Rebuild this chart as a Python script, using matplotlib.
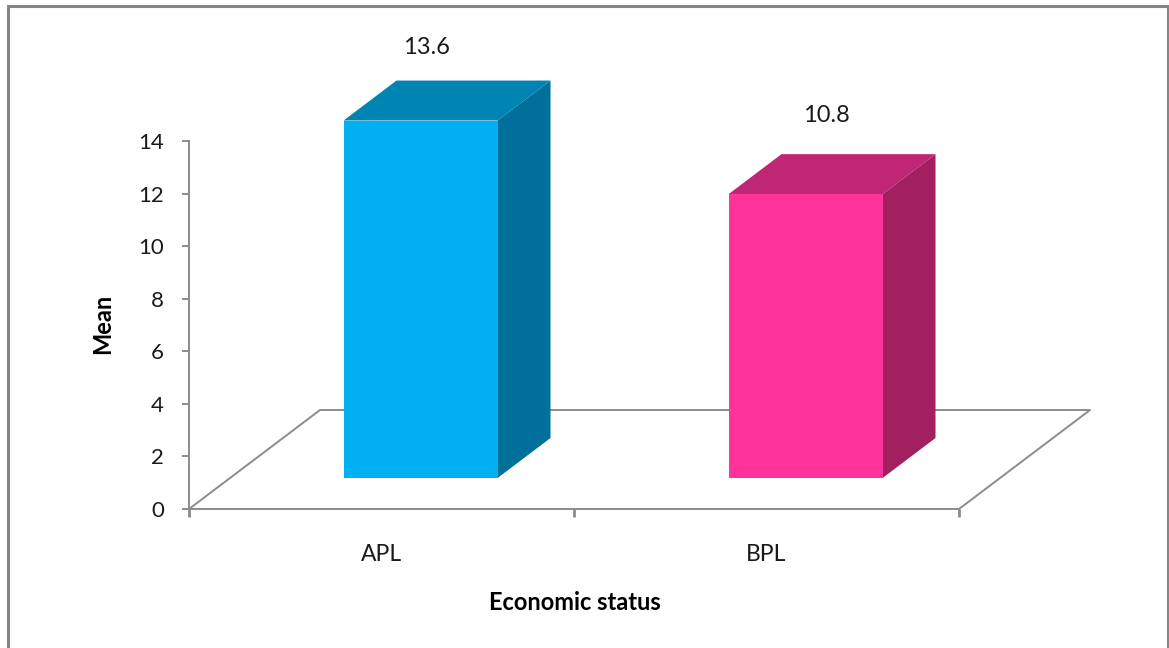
import matplotlib
matplotlib.use("Agg")
from matplotlib import pyplot as plt
from matplotlib.patches import Polygon, Rectangle

plt.rcParams['font.family'] = ['Lato', 'DejaVu Sans']

categories = ["APL", "BPL"]
means = [13.6, 10.8]
y_ticks = [0, 2, 4, 6, 8, 10, 12, 14]

front_colors = ["#00B0F0", "#FF3399"]
top_colors = ["#0084B4", "#BF2673"]
side_colors = ["#00709A", "#A2205F"]

W, H = 1169, 648
GRAY = "#8C8C8C"

fig = plt.figure(figsize=(W / 100, H / 100), dpi=100)

# outer chart border
fig.add_artist(Rectangle((7.5 / W, -0.05), (1167.5 - 7.5) / W, 1.05 - 5.5 / H,
                         transform=fig.transFigure, fill=False, ec="#858585", lw=2.2))

# plot box: x 0..2 is the front edge of the floor, y 0..14 the wall height
ax = fig.add_axes([189 / W, 1 - 509 / H, 770 / W, 368 / H])
ax.set_xlim(0, 2)
ax.set_ylim(0, 14)
ax.patch.set_visible(False)

floor_dx = 131 / 385
floor_dy = 99 / 26.29
bar_width = 0.4


def skew(x, y, depth):
    # slide a point back along the floor, depth 0 is front and 1 is back
    return (x + depth * floor_dx, y + depth * floor_dy)


def face(points, color, z=3):
    ax.add_patch(Polygon(points, closed=True, fc=color, ec="none", clip_on=False, zorder=z))


# floor outline
ax.plot([0, floor_dx, 2 + floor_dx, 2], [0, floor_dy, floor_dy, 0],
        color=GRAY, lw=1.4, clip_on=False, zorder=1)

bar_front = 0.313
bar_back = 0.717
label_gap = [73, 79]
label_shift = [6, 21]

for i, (name, val) in enumerate(zip(categories, means)):
    x0 = i + 0.495 - bar_width / 2
    x1 = x0 + bar_width
    face([skew(x0, 0, bar_front), skew(x1, 0, bar_front),
          skew(x1, val, bar_front), skew(x0, val, bar_front)], front_colors[i], 4)
    face([skew(x0, val, bar_front), skew(x1, val, bar_front),
          skew(x1, val, bar_back), skew(x0, val, bar_back)], top_colors[i])
    face([skew(x1, 0, bar_front), skew(x1, 0, bar_back),
          skew(x1, val, bar_back), skew(x1, val, bar_front)], side_colors[i])
    ax.annotate(f"{val}", xy=skew(i + 0.495, val, bar_front),
                xytext=(label_shift[i] * 0.72, label_gap[i] * 0.72),
                textcoords="offset points", ha="center", va="center",
                fontsize=17, color="#1A1A1A", annotation_clip=False)

for s in ["top", "right"]:
    ax.spines[s].set_visible(False)
for s in ["left", "bottom"]:
    ax.spines[s].set_color(GRAY)
    ax.spines[s].set_linewidth(1.4)

ax.set_yticks(y_ticks)
ax.tick_params(axis="y", length=5, width=1.4, color=GRAY, labelsize=16, pad=13, labelcolor="#1A1A1A")

# ticks sit between the categories, labels in the middle
ax.set_xticks([0, 1, 2])
ax.set_xticklabels([])
ax.tick_params(axis="x", which="major", length=6, width=2, color=GRAY)
ax.set_xticks([0.5, 1.5], minor=True)
ax.set_xticklabels(categories, minor=True)
ax.tick_params(axis="x", which="minor", length=0, pad=25, labelsize=16.5, labelcolor="#1A1A1A")

fig.text(103 / W, 1 - 324 / H, "Mean", rotation=90, ha="center", va="center",
         fontsize=17, fontweight="bold", color="black")
fig.text(575 / W, 1 - 602 / H, "Economic status", ha="center", va="center",
         fontsize=17, fontweight="bold", color="black")

fig.savefig("out.png", dpi=100)
